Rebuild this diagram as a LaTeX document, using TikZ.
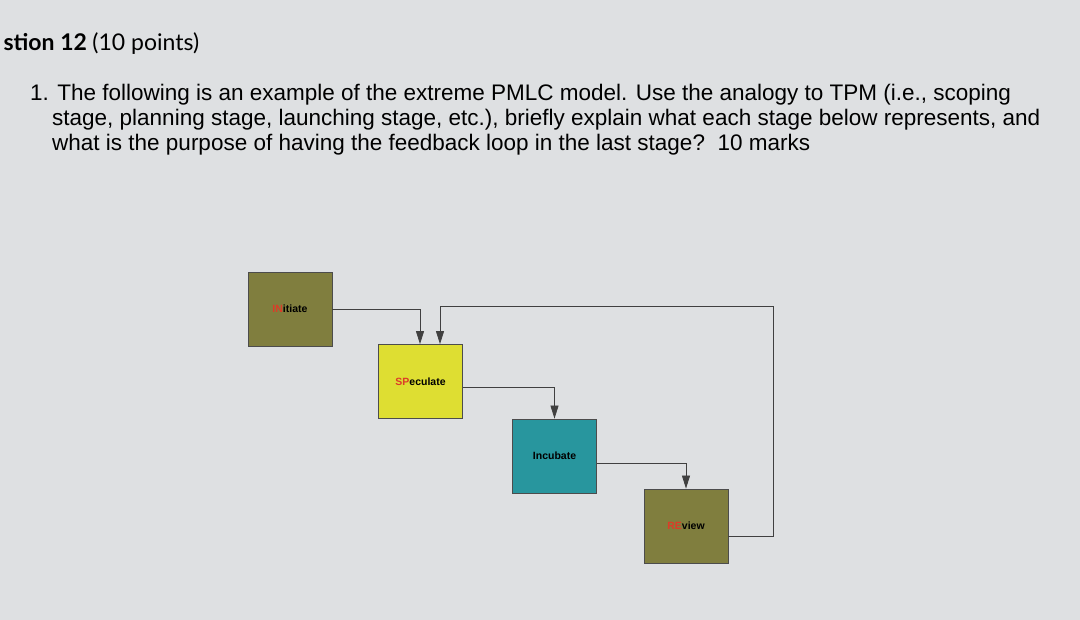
\documentclass[tikz,border=0pt]{standalone}
\usepackage{fontspec}
\setmainfont{Liberation Sans}
\newfontfamily\titlefont{Lato}
\usetikzlibrary{arrows.meta}
\definecolor{bg}{RGB}{222,224,226}
\definecolor{olivebox}{RGB}{128,126,62}
\definecolor{yelbox}{RGB}{222,222,50}
\definecolor{tealbox}{RGB}{40,150,158}
\definecolor{redtxt}{RGB}{220,60,40}
\begin{document}
\begin{tikzpicture}[x=1pt,y=-1pt,
  stage/.style={draw=black!70,line width=0.8pt,minimum width=84pt,minimum height=74pt,inner sep=0pt,font=\bfseries\fontsize{10.5}{11}\selectfont},
  conn/.style={draw=black!75,line width=0.8pt,-{Triangle[length=13pt,width=8pt]}}]
\fill[bg] (0,0) rectangle (1080,620);
\useasboundingbox (0,0) rectangle (1080,620);
\node[anchor=west,font=\titlefont\bfseries\fontsize{23}{25}\selectfont] (title) at (0,44) {stion 12 \mdseries(10 points)};
\node[anchor=north west,align=left,font=\fontsize{22.5}{25}\selectfont,inner sep=0pt] (q) at (30,84)
 {1. The following is an example of the extreme PMLC model. Use the analogy to TPM (i.e., scoping\\
 \hspace*{22pt}stage, planning stage, launching stage, etc.), briefly explain what each stage below represents, and\\
 \hspace*{22pt}what is the purpose of having the feedback loop in the last stage?\ \ 10 marks};
\node[stage,fill=olivebox] (ini) at (290,309) {\textcolor{redtxt}{IN}itiate};
\node[stage,fill=yelbox] (spe) at (420.5,381.5) {\textcolor{redtxt}{SP}eculate};
\node[stage,fill=tealbox] (inc) at (554.5,456) {Incubate};
\node[stage,fill=olivebox] (rev) at (686,526) {\textcolor{redtxt}{RE}view};
\coordinate (fb) at (773,306);
\draw[conn] (ini.east) -| ([xshift=-0.5pt]spe.north);
\draw[conn] (rev.east |- 0,536) -| (fb) -| ([xshift=19.5pt]spe.north);
\draw[conn] (spe.east |- 0,387) -| (inc.north);
\draw[conn] (inc.east |- 0,463) -| (rev.north);
\end{tikzpicture}
\end{document}
